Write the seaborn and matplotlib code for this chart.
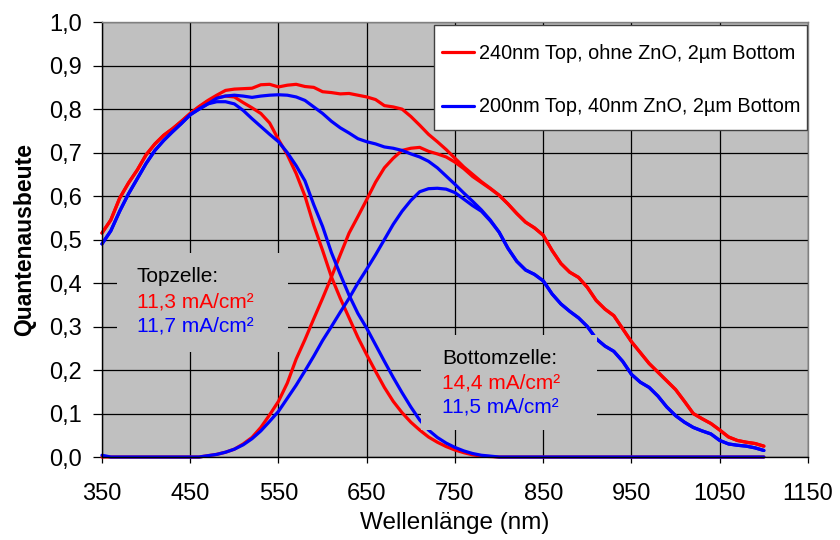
import numpy as np
import pandas as pd
import matplotlib
matplotlib.use("Agg")
import matplotlib.pyplot as plt
import seaborn as sns
from matplotlib.patches import Rectangle
from matplotlib.lines import Line2D
from matplotlib.ticker import FuncFormatter

# ---------------- data ----------------
wavelength = list(range(350, 1101, 10))  # nm, 76 points

series_labels = ["240nm Top, ohne ZnO, 2µm Bottom", "200nm Top, 40nm ZnO, 2µm Bottom"]
series_colors = ["#FF0000", "#0000FF"]

# sample 1 (red)
red_top = [0.515, 0.545, 0.595, 0.630, 0.660, 0.695, 0.720, 0.740, 0.755, 0.772,
           0.790, 0.805, 0.818, 0.826, 0.830, 0.828, 0.815, 0.803, 0.790, 0.768,
           0.730, 0.695, 0.652, 0.600, 0.533, 0.475, 0.414, 0.365, 0.320, 0.275,
           0.235, 0.197, 0.160, 0.128, 0.102, 0.080, 0.062, 0.046, 0.034, 0.024,
           0.016, 0.010, 0.005, 0.002, 0.001, 0.0, 0.0, 0.0, 0.0, 0.0,
           0.0, 0.0, 0.0, 0.0, 0.0, 0.0, 0.0, 0.0, 0.0, 0.0,
           0.0, 0.0, 0.0, 0.0, 0.0, 0.0, 0.0, 0.0, 0.0, 0.0,
           0.0, 0.0, 0.0, 0.0, 0.0, 0.0]
red_bottom = [0.0, 0.0, 0.0, 0.0, 0.0, 0.0, 0.0, 0.0, 0.0, 0.0,
              0.0, 0.0, 0.003, 0.006, 0.011, 0.018, 0.030, 0.045, 0.068, 0.097,
              0.128, 0.170, 0.225, 0.270, 0.318, 0.365, 0.414, 0.465, 0.515, 0.553,
              0.592, 0.632, 0.665, 0.687, 0.705, 0.710, 0.712, 0.703, 0.697, 0.690,
              0.678, 0.663, 0.645, 0.631, 0.617, 0.602, 0.582, 0.560, 0.540, 0.527,
              0.510, 0.475, 0.445, 0.425, 0.413, 0.390, 0.360, 0.340, 0.325, 0.295,
              0.265, 0.240, 0.215, 0.195, 0.175, 0.155, 0.128, 0.100, 0.088, 0.077,
              0.062, 0.046, 0.038, 0.034, 0.031, 0.025]
red_total = [0.515, 0.545, 0.595, 0.630, 0.660, 0.695, 0.720, 0.740, 0.755, 0.772,
             0.790, 0.806, 0.820, 0.832, 0.843, 0.846, 0.847, 0.848, 0.856, 0.857,
             0.851, 0.855, 0.857, 0.852, 0.850, 0.840, 0.838, 0.835, 0.836, 0.832,
             0.828, 0.822, 0.808, 0.805, 0.800, 0.783, 0.763, 0.742, 0.725, 0.707,
             0.687, 0.667, 0.650, 0.633, 0.618, 0.602, 0.582, 0.560, 0.540, 0.527,
             0.510, 0.475, 0.445, 0.425, 0.413, 0.390, 0.360, 0.340, 0.325, 0.295,
             0.265, 0.240, 0.215, 0.195, 0.175, 0.155, 0.128, 0.100, 0.088, 0.077,
             0.062, 0.046, 0.038, 0.034, 0.031, 0.025]

# sample 2 (blue)
blue_top = [0.490, 0.520, 0.565, 0.605, 0.640, 0.675, 0.705, 0.728, 0.748, 0.767,
            0.787, 0.800, 0.812, 0.817, 0.817, 0.812, 0.797, 0.778, 0.760, 0.742,
            0.725, 0.700, 0.670, 0.635, 0.580, 0.530, 0.470, 0.420, 0.372, 0.330,
            0.296, 0.258, 0.220, 0.183, 0.148, 0.115, 0.085, 0.062, 0.045, 0.032,
            0.022, 0.014, 0.008, 0.004, 0.002, 0.0, 0.0, 0.0, 0.0, 0.0,
            0.0, 0.0, 0.0, 0.0, 0.0, 0.0, 0.0, 0.0, 0.0, 0.0,
            0.0, 0.0, 0.0, 0.0, 0.0, 0.0, 0.0, 0.0, 0.0, 0.0,
            0.0, 0.0, 0.0, 0.0, 0.0, 0.0]
blue_bottom = [0.004, 0.0, 0.0, 0.0, 0.0, 0.0, 0.0, 0.0, 0.0, 0.0,
               0.0, 0.0, 0.003, 0.006, 0.011, 0.018, 0.028, 0.042, 0.060, 0.082,
               0.105, 0.135, 0.165, 0.198, 0.232, 0.268, 0.300, 0.333, 0.365, 0.400,
               0.432, 0.465, 0.500, 0.535, 0.565, 0.590, 0.610, 0.617, 0.618, 0.616,
               0.608, 0.593, 0.578, 0.565, 0.543, 0.517, 0.480, 0.450, 0.430, 0.420,
               0.405, 0.375, 0.352, 0.335, 0.320, 0.300, 0.272, 0.255, 0.243, 0.220,
               0.190, 0.172, 0.160, 0.140, 0.115, 0.095, 0.080, 0.068, 0.060, 0.053,
               0.038, 0.030, 0.027, 0.025, 0.021, 0.015]
blue_total = [0.490, 0.520, 0.565, 0.605, 0.640, 0.675, 0.705, 0.728, 0.748, 0.767,
              0.787, 0.800, 0.812, 0.825, 0.830, 0.832, 0.830, 0.827, 0.830, 0.832,
              0.833, 0.832, 0.828, 0.820, 0.805, 0.790, 0.772, 0.757, 0.745, 0.732,
              0.725, 0.720, 0.713, 0.710, 0.705, 0.697, 0.690, 0.680, 0.665, 0.646,
              0.627, 0.607, 0.588, 0.568, 0.545, 0.517, 0.480, 0.450, 0.430, 0.420,
              0.405, 0.375, 0.352, 0.335, 0.320, 0.300, 0.272, 0.255, 0.243, 0.220,
              0.190, 0.172, 0.160, 0.140, 0.115, 0.095, 0.080, 0.068, 0.060, 0.053,
              0.038, 0.030, 0.027, 0.025, 0.021, 0.015]

x_ticks = [350, 450, 550, 650, 750, 850, 950, 1050, 1150]
y_ticks = [0.0, 0.1, 0.2, 0.3, 0.4, 0.5, 0.6, 0.7, 0.8, 0.9, 1.0]

top_note = ["Topzelle:", "11,3 mA/cm²", "11,7 mA/cm²"]
bottom_note = ["Bottomzelle:", "14,4 mA/cm²", "11,5 mA/cm²"]
note_colors = ["black", "#FF0000", "#0000FF"]

# ---------------- long-form table ----------------
frames = []
curves = {
    series_labels[0]: {"top": red_top, "bottom": red_bottom, "total": red_total},
    series_labels[1]: {"top": blue_top, "bottom": blue_bottom, "total": blue_total},
}
for label, parts in curves.items():
    for part, vals in parts.items():
        frames.append(pd.DataFrame({"wl": wavelength, "qe": vals,
                                    "probe": label, "kurve": part}))
df = pd.concat(frames, ignore_index=True)

# ---------------- plot ----------------
sns.set_theme(style="white")
plt.rcParams["font.family"] = ["Liberation Sans", "DejaVu Sans"]
plt.rcParams["text.color"] = "black"
plt.rcParams["axes.labelcolor"] = "black"
plt.rcParams["xtick.color"] = "black"
plt.rcParams["ytick.color"] = "black"

fig = plt.figure(figsize=(8.4, 5.4), dpi=100)
ax = fig.add_axes([0.1214, 0.1537, 0.8405, 0.8053])
ax.set_facecolor("#C0C0C0")

sns.lineplot(data=df, x="wl", y="qe", hue="probe", units="kurve",
             estimator=None, sort=False, hue_order=series_labels,
             palette=series_colors, linewidth=2.3, legend=False, ax=ax)
for ln in ax.get_lines():
    ln.set_clip_on(False)
    ln.set_solid_joinstyle("round")

ax.set_xlim(350, 1150)
ax.set_ylim(0, 1.0)
ax.set_xticks(x_ticks)
ax.set_yticks(y_ticks)
ax.yaxis.set_major_formatter(FuncFormatter(lambda v, p: f"{v:.1f}".replace(".", ",")))
ax.grid(True, color="black", linewidth=0.9)
ax.set_axisbelow(True)

for side in ["left", "bottom"]:
    ax.spines[side].set_color("black")
    ax.spines[side].set_linewidth(1.0)
for side in ["top", "right"]:
    ax.spines[side].set_color("#808080")
    ax.spines[side].set_linewidth(1.0)

ax.tick_params(axis="y", left=True, direction="out", length=6.5, width=0.9,
               labelsize=17, pad=8)
ax.tick_params(axis="x", bottom=True, direction="out", length=4.5, width=0.9,
               labelsize=17, pad=14)

ax.set_xlabel("Wellenlänge (nm)", fontsize=17.5, labelpad=5)
ax.set_ylabel("Quantenausbeute", fontsize=16.5, fontweight="bold", labelpad=9)

# opaque annotation boxes (cover grid and curves like the original)
ax.add_patch(Rectangle((0.0213, 0.241), 0.2425, 0.228, transform=ax.transAxes,
                       facecolor="#C0C0C0", edgecolor="none", zorder=3))
ax.add_patch(Rectangle((0.452, 0.062), 0.249, 0.218, transform=ax.transAxes,
                       facecolor="#C0C0C0", edgecolor="none", zorder=3))

for txt, col, yy in zip(top_note, note_colors, [0.4145, 0.357, 0.301]):
    ax.text(0.0496, yy, txt, color=col, fontsize=15, transform=ax.transAxes,
            va="center", ha="left", zorder=4)
for txt, col, yy in zip(bottom_note, note_colors, [0.2276, 0.170, 0.115]):
    ax.text(0.4816, yy, txt, color=col, fontsize=15, transform=ax.transAxes,
            va="center", ha="left", zorder=4)

# legend frame drawn as a white box, entries placed inside it
ax.add_patch(Rectangle((0.4707, 0.752), 0.5283, 0.241, transform=ax.transAxes,
                       facecolor="white", edgecolor="#404040", linewidth=1.0,
                       zorder=5))
handles = [Line2D([0], [0], color=c, linewidth=2.3) for c in series_colors]
leg = ax.legend(handles, series_labels, loc="center left",
                bbox_to_anchor=(0.482, 0.866), frameon=False,
                fontsize=14.3, handlelength=1.6, handletextpad=0.25,
                labelspacing=1.72, borderpad=0, borderaxespad=0)
leg.set_zorder(6)

fig.savefig("out.png", dpi=100)
